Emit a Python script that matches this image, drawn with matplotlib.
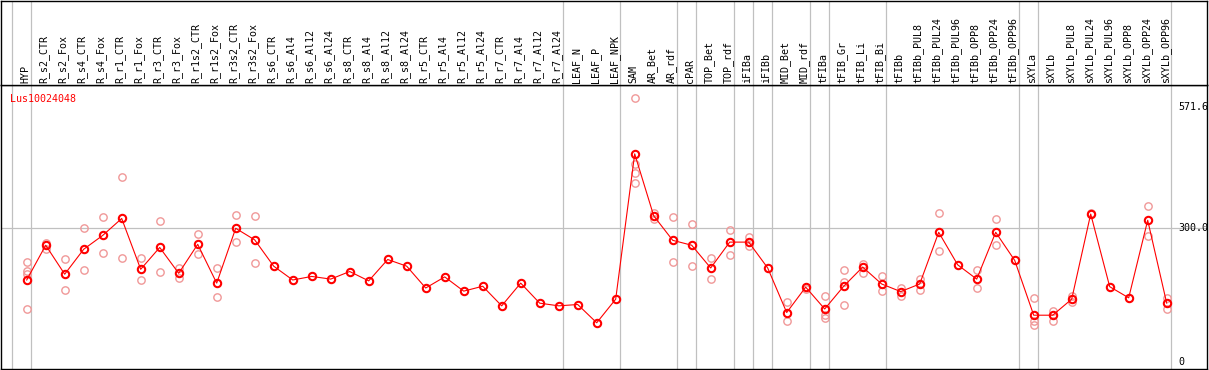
import numpy as np
import matplotlib.pyplot as plt

categories = ['HYP', 'R_s2_CTR', 'R_s2_Fox', 'R_s4_CTR', 'R_s4_Fox', 'R_r1_CTR', 'R_r1_Fox',
              'R_r3_CTR', 'R_r3_Fox', 'R_r1s2_CTR', 'R_r1s2_Fox', 'R_r3s2_CTR', 'R_r3s2_Fox',
              'R_s6_CTR', 'R_s6_Al4', 'R_s6_Al12', 'R_s6_Al24', 'R_s8_CTR', 'R_s8_Al4',
              'R_s8_Al12', 'R_s8_Al24', 'R_r5_CTR', 'R_r5_Al4', 'R_r5_Al12', 'R_r5_Al24',
              'R_r7_CTR', 'R_r7_Al4', 'R_r7_Al12', 'R_r7_Al24', 'LEAF_N', 'LEAF_P', 'LEAF_NPK',
              'SAM', 'AR_Bet', 'AR_rdf', 'cPAR', 'TOP_Bet', 'TOP_rdf', 'iFIBa', 'iFIBb',
              'MID_Bet', 'MID_rdf', 'tFIBa', 'tFIB_Gr', 'tFIB_Li', 'tFIB_Bi', 'tFIBb',
              'tFIBb_PUL8', 'tFIBb_PUL24', 'tFIBb_PUL96', 'tFIBb_OPP8', 'tFIBb_OPP24',
              'tFIBb_OPP96', 'sXYLa', 'sXYLb', 'sXYLb_PUL8', 'sXYLb_PUL24', 'sXYLb_PUL96',
              'sXYLb_OPP8', 'sXYLb_OPP24', 'sXYLb_OPP96']

# mean expression per sample
means = [184, 262, 197, 253, 284, 322, 208, 257, 199, 264, 177, 300, 274,
         215, 184, 192, 186, 203, 182, 230, 215, 166, 191, 159, 170,
         126, 177, 132, 126, 129, 88, 141,
         467, 328, 273, 262, 211, 269, 269, 211, 111, 168, 119, 170, 213, 175, 158,
         175, 291, 218, 186, 291, 228, 105, 105, 141, 332, 169, 144, 318, 132]

# individual replicates (category index, value)
rep_idx = [0, 0, 0, 0, 1, 1, 2, 2, 3, 3, 4, 4, 5, 5, 6, 6, 7, 7, 8, 8, 9, 9, 10, 10, 11, 11, 12, 12,
           32, 32, 32, 32, 33, 33, 34, 34, 35, 35, 36, 36, 37, 37, 38, 38, 40, 40, 41,
           42, 42, 42, 43, 43, 43, 44, 44, 45, 45, 46, 46, 47, 47, 48, 48, 50, 50, 51, 51,
           53, 53, 53, 54, 54, 55, 55, 56, 59, 59, 60, 60]
rep_val = [224, 205, 197, 120, 268, 253, 230, 161, 300, 206, 325, 244, 414, 233, 233, 183,
           316, 201, 212, 189, 287, 242, 210, 145, 329, 269, 327, 222,
           592, 444, 423, 401, 335, 320, 325, 224, 310, 215, 233, 186, 296, 239, 280, 261,
           135, 91, 164,
           148, 106, 98, 206, 179, 127, 219, 199, 193, 160, 165, 148, 186, 162, 334, 248,
           206, 165, 320, 262,
           143, 93, 82, 115, 93, 147, 135, 334, 349, 283, 143, 120]

# group separators
groups = [-1, 0, 28, 31, 34, 35, 37, 38, 39, 41, 42, 45, 52, 53, 60]

W, H = 1209, 370
x = np.arange(len(categories))
x0 = (1 - 26.7) / 19
x1 = (1207 - 26.7) / 19

fig = plt.figure(figsize=(W / 100, H / 100), dpi=100)
ax = fig.add_axes([1 / W, 1 / H, 1206 / W, 284 / H])
ax_top = fig.add_axes([1 / W, 285 / H, 1206 / W, 84.5 / H])

for a in (ax, ax_top):
    a.set_xlim(x0, x1)
    a.set_xticks([])
    a.set_yticks([])
    for s in a.spines.values():
        s.set_color('black')
        s.set_linewidth(1.0)
    for g in groups:
        a.axvline(g + 0.2, color='#c0c0c0', lw=0.9, zorder=0)

ax.set_ylim(-15.7, 621.5)
ax_top.set_ylim(0, 1)

ax.axhline(300, color='#c0c0c0', lw=0.9, zorder=0)

ax.plot(rep_idx, rep_val, 'o', ms=5.3, mfc='none', mec='#f09898', mew=1.0, zorder=2)
ax.plot(x, means, '-', color='red', lw=0.8, zorder=3)
ax.plot(x, means, 'o', ms=5.3, mfc='none', mec='red', mew=1.5, zorder=4)

mono = 'DejaVu Sans Mono'
for i, c in enumerate(categories):
    ax_top.text(i - 0.08, 0.025, c, rotation=90, ha='center', va='bottom',
                fontsize=7.2, family=mono)

ax.text(-0.88, 591, 'Lus10024048', color='red', ha='left', va='center',
        fontsize=7.2, family=mono)
for v, lab in [(571.6, '571.6'), (300, '300.0'), (0, '0')]:
    ax.text(60.6, v, lab, ha='left', va='center', fontsize=7.2, family=mono)

fig.savefig('out.png', dpi=100)
